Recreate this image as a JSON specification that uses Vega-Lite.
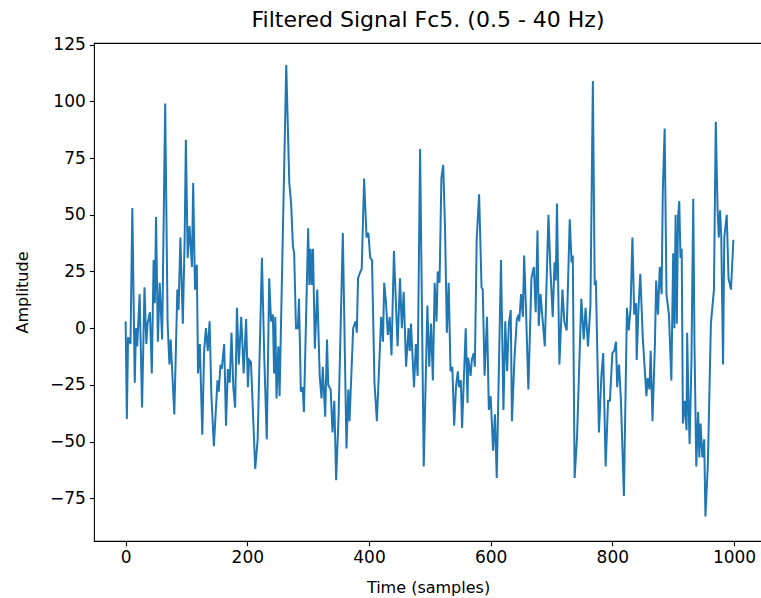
{
  "$schema": "https://vega.github.io/schema/vega-lite/v6.json",
  "autosize": "none",
  "width": 668,
  "height": 498,
  "padding": {"left": 94, "top": 43, "right": 0, "bottom": 57},
  "background": "white",
  "title": {"text": "Filtered Signal Fc5. (0.5 - 40 Hz)", "fontSize": 22, "fontWeight": "normal", "font": "DejaVu Sans", "color": "black", "anchor": "middle", "offset": 4},
  "config": {
    "view": {"stroke": "black", "strokeWidth": 1.1},
    "axis": {"grid": false, "domain": false, "tickColor": "black", "tickSize": 4.7, "tickWidth": 1.1, "labelColor": "black", "labelFont": "DejaVu Sans", "labelFontSize": 17, "labelPadding": 4, "titleFont": "DejaVu Sans", "titleFontSize": 16, "titleFontWeight": "normal", "titleColor": "black"}
  },
  "data": {"values": [
    {"t":0,"v":3},{"t":2,"v":-40},{"t":4,"v":-4},{"t":8,"v":-7},{"t":11,"v":53},{"t":15,"v":-24},{"t":17,"v":0},{"t":19,"v":-8},{"t":23,"v":15},{"t":27,"v":-35},{"t":31,"v":18},{"t":34,"v":-7},{"t":36,"v":2},{"t":40,"v":7},{"t":43,"v":-20},{"t":46,"v":30},{"t":48,"v":11},{"t":50,"v":49},{"t":53,"v":-6},{"t":56,"v":20},{"t":60,"v":-5},{"t":65,"v":99},{"t":69,"v":2},{"t":72,"v":-16},{"t":74,"v":-5},{"t":80,"v":-38},{"t":85,"v":17},{"t":87,"v":8},{"t":90,"v":40},{"t":94,"v":2},{"t":97,"v":39},{"t":99,"v":83},{"t":102,"v":31},{"t":105,"v":45},{"t":109,"v":27},
    {"t":111,"v":64},{"t":114,"v":17},{"t":117,"v":28},{"t":119,"v":-20},{"t":122,"v":-7},{"t":126,"v":-47},{"t":129,"v":-10},{"t":132,"v":0},{"t":135,"v":-10},{"t":138,"v":3},{"t":141,"v":-30},{"t":145,"v":-52},{"t":151,"v":-23},{"t":153,"v":-28},{"t":156,"v":-16},{"t":158,"v":-18},{"t":162,"v":-7},{"t":165,"v":-43},{"t":168,"v":-18},{"t":171,"v":-24},{"t":174,"v":-2},{"t":177,"v":-26},{"t":180,"v":-35},{"t":183,"v":9},{"t":186,"v":-16},{"t":190,"v":5},{"t":194,"v":-20},{"t":198,"v":4},{"t":201,"v":-26},{"t":203,"v":-14},{"t":206,"v":-15},{"t":213,"v":-62},{"t":217,"v":-49},
    {"t":224,"v":31},{"t":228,"v":-14},{"t":232,"v":-49},{"t":236,"v":22},{"t":239,"v":3},{"t":242,"v":6},{"t":244,"v":-20},{"t":246,"v":5},{"t":248,"v":-31},{"t":251,"v":-8},{"t":253,"v":-30},{"t":264,"v":116},{"t":269,"v":64},{"t":272,"v":55},{"t":275,"v":36},{"t":277,"v":33},{"t":280,"v":0},{"t":283,"v":0},{"t":285,"v":13},{"t":288,"v":-28},{"t":291,"v":-26},{"t":293,"v":-37},{"t":300,"v":44},{"t":302,"v":19},{"t":304,"v":35},{"t":306,"v":19},{"t":308,"v":35},{"t":311,"v":-9},{"t":315,"v":17},{"t":319,"v":-21},{"t":322,"v":-31},{"t":324,"v":-17},{"t":328,"v":-39},{"t":331,"v":-5},{"t":333,"v":-25},
    {"t":337,"v":-27},{"t":340,"v":-46},{"t":343,"v":-32},{"t":346,"v":-67},{"t":350,"v":-39},{"t":357,"v":42},{"t":363,"v":-53},{"t":366,"v":-27},{"t":368,"v":-41},{"t":374,"v":0},{"t":378,"v":3},{"t":380,"v":-2},{"t":382,"v":22},{"t":386,"v":25},{"t":388,"v":26},{"t":392,"v":66},{"t":396,"v":40},{"t":399,"v":42},{"t":402,"v":31},{"t":405,"v":30},{"t":409,"v":-24},{"t":413,"v":-41},{"t":420,"v":5},{"t":423,"v":-6},{"t":425,"v":20},{"t":428,"v":11},{"t":431,"v":-3},{"t":434,"v":5},{"t":437,"v":-12},{"t":441,"v":34},
    {"t":447,"v":-8},{"t":451,"v":22},{"t":454,"v":0},{"t":457,"v":16},{"t":461,"v":-17},{"t":465,"v":0},{"t":467,"v":-10},{"t":469,"v":2},{"t":474,"v":-26},{"t":477,"v":-7},{"t":480,"v":-21},{"t":484,"v":79},{"t":490,"v":-61},{"t":496,"v":10},{"t":499,"v":-17},{"t":502,"v":2},{"t":505,"v":-23},{"t":508,"v":20},{"t":511,"v":3},{"t":513,"v":25},{"t":516,"v":20},{"t":519,"v":66},{"t":522,"v":72},{"t":525,"v":44},{"t":528,"v":-2},{"t":531,"v":20},{"t":534,"v":-19},{"t":537,"v":-17},{"t":540,"v":-43},{"t":543,"v":-26},{"t":546,"v":-19},{"t":548,"v":-26},{"t":551,"v":-23},{"t":553,"v":-44},
    {"t":559,"v":0},{"t":562,"v":-33},{"t":563,"v":-13},{"t":567,"v":-21},{"t":569,"v":-14},{"t":572,"v":-11},{"t":574,"v":-17},{"t":577,"v":39},{"t":581,"v":59},{"t":585,"v":18},{"t":587,"v":17},{"t":590,"v":-21},{"t":594,"v":5},{"t":597,"v":-36},{"t":600,"v":-30},{"t":604,"v":-54},{"t":607,"v":-38},{"t":610,"v":-66},{"t":617,"v":30},{"t":621,"v":-36},{"t":624,"v":3},{"t":627,"v":-19},{"t":630,"v":2},{"t":633,"v":8},{"t":635,"v":-41},{"t":639,"v":-14},{"t":643,"v":4},{"t":646,"v":6},{"t":647,"v":3},{"t":650,"v":15},{"t":653,"v":5},{"t":655,"v":32},{"t":658,"v":9},{"t":662,"v":-27},
    {"t":667,"v":22},{"t":671,"v":27},{"t":674,"v":7},{"t":677,"v":43},{"t":679,"v":1},{"t":682,"v":15},{"t":685,"v":5},{"t":689,"v":-8},{"t":695,"v":50},{"t":698,"v":27},{"t":702,"v":5},{"t":705,"v":29},{"t":707,"v":21},{"t":709,"v":55},{"t":713,"v":-16},{"t":718,"v":17},{"t":721,"v":3},{"t":725,"v":-1},{"t":730,"v":48},{"t":733,"v":29},{"t":735,"v":32},{"t":738,"v":-66},{"t":742,"v":-48},{"t":749,"v":13},{"t":753,"v":-5},{"t":756,"v":9},{"t":760,"v":-8},{"t":764,"v":10},{"t":768,"v":109},{"t":771,"v":19},{"t":773,"v":20},
    {"t":778,"v":-46},{"t":782,"v":-21},{"t":785,"v":-11},{"t":789,"v":-61},{"t":793,"v":-32},{"t":796,"v":-32},{"t":800,"v":-11},{"t":803,"v":-10},{"t":806,"v":-6},{"t":808,"v":-26},{"t":811,"v":-16},{"t":814,"v":-31},{"t":819,"v":-74},{"t":824,"v":9},{"t":827,"v":-1},{"t":830,"v":9},{"t":833,"v":40},{"t":836,"v":6},{"t":839,"v":11},{"t":840,"v":-14},{"t":843,"v":9},{"t":846,"v":24},{"t":850,"v":-4},{"t":853,"v":-17},{"t":856,"v":-30},{"t":858,"v":-22},{"t":861,"v":-27},{"t":863,"v":-10},{"t":866,"v":-41},{"t":870,"v":-7},{"t":872,"v":21},{"t":875,"v":6},{"t":878,"v":27},{"t":881,"v":15},{"t":883,"v":61},{"t":886,"v":88},{"t":889,"v":15},{"t":893,"v":6},
    {"t":897,"v":-23},{"t":900,"v":33},{"t":902,"v":0},{"t":904,"v":50},{"t":906,"v":2},{"t":908,"v":49},{"t":910,"v":56},{"t":912,"v":31},{"t":914,"v":35},{"t":916,"v":-42},{"t":919,"v":-32},{"t":922,"v":-45},{"t":923,"v":-2},{"t":925,"v":-31},{"t":927,"v":-51},{"t":930,"v":-15},{"t":933,"v":57},{"t":935,"v":-7},{"t":938,"v":-61},{"t":941,"v":-37},{"t":943,"v":-57},{"t":945,"v":-42},{"t":948,"v":-57},{"t":951,"v":-49},{"t":953,"v":-83},{"t":957,"v":-60},{"t":962,"v":2},{"t":967,"v":17},{"t":970,"v":91},{"t":973,"v":52},{"t":975,"v":40},{"t":977,"v":52},{"t":979,"v":41},{"t":982,"v":-16},{"t":984,"v":40},{"t":988,"v":50},{"t":991,"v":22},{"t":995,"v":17},{"t":999,"v":39}
  ]},
  "mark": {"type": "line", "color": "#1f77b4", "strokeWidth": 2, "clip": true},
  "encoding": {
    "x": {"field": "t", "type": "quantitative", "title": "Time (samples)", "scale": {"domain": [-52, 1046], "nice": false, "zero": false}, "axis": {"values": [0, 200, 400, 600, 800, 1000], "format": "d", "titlePadding": 14}},
    "y": {"field": "v", "type": "quantitative", "title": "Amplitude", "scale": {"domain": [-93.8, 125.7], "nice": false, "zero": false}, "axis": {"values": [-75, -50, -25, 0, 25, 50, 75, 100, 125], "format": "d", "titlePadding": 19}}
  }
}
